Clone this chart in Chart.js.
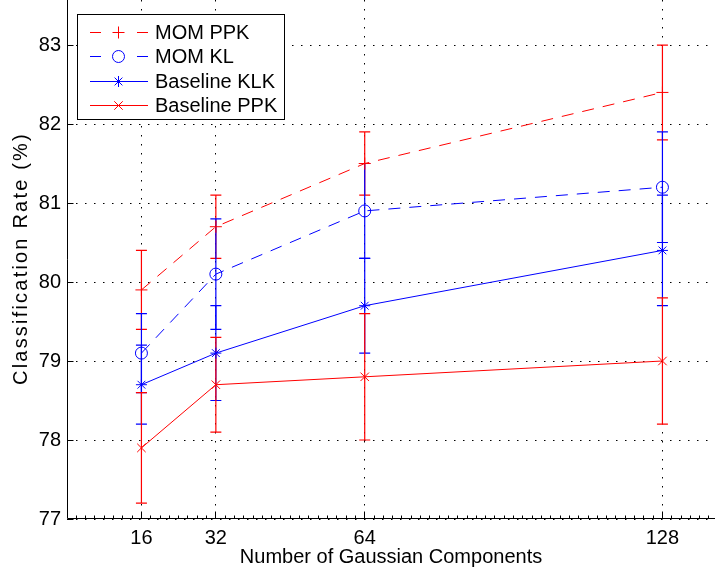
<!DOCTYPE html>
<html>
<head>
<meta charset="utf-8">
<script src="https://cdn.jsdelivr.net/npm/chart.js@4.4.0/dist/chart.umd.min.js"></script>
<style>
  html, body { margin: 0; padding: 0; background: #fff; }
  #wrap { width: 715px; height: 574px; }
</style>
</head>
<body>
<div id="wrap"><canvas id="chart" width="715" height="574"></canvas></div>
<script>
// data
const components = [16, 32, 64, 128];
const momPpk = [79.9, 80.7, 81.5, 82.4];
const momPpkErr = [0.5, 0.4, 0.4, 0.6];
const momKl = [79.1, 80.1, 80.9, 81.2];
const momKlErr = [0.5, 0.7, 0.6, 0.7];
const baseKlk = [78.7, 79.1, 79.7, 80.4];
const baseKlkErr = [0.5, 0.6, 0.6, 0.7];
const basePpk = [77.9, 78.7, 78.8, 79.0];
const basePpkErr = [0.7, 0.6, 0.8, 0.8];
const yTicks = [77, 78, 79, 80, 81, 82, 83];

const RED = '#ff0000';
const BLUE = '#0000ff';
const FONT = 'Liberation Sans, Arial, Helvetica, sans-serif';
const Y_TITLE = 'Classification Rate (%)';

Chart.defaults.font.family = FONT;
Chart.defaults.color = '#000';

function toPoints(values) {
    return values.map((v, i) => ({ x: components[i], y: v }));
}

// same pixel snapping as the chart.js grid lines
function snap(px) {
    return Math.round(px - 0.5) + 0.5;
}

function series(label, values, errors, color, dashed, style, radius) {
    return {
        label: label,
        data: toPoints(values),
        errors: errors,
        borderColor: color,
        borderWidth: 1,
        borderDash: dashed ? [12, 9] : [],
        pointStyle: style,
        pointRadius: radius,
        pointBorderColor: color,
        pointBackgroundColor: 'rgba(0,0,0,0)',
        pointBorderWidth: 1,
        tension: 0,
        fill: false
    };
}

// error bars with caps, drawn through the scales
const errorBars = {
    id: 'errorBars',
    beforeDatasetsDraw(chart) {
        const ctx = chart.ctx;
        const xs = chart.scales.x, ys = chart.scales.y;
        ctx.save();
        ctx.lineWidth = 1.2;
        ctx.setLineDash([]);
        chart.data.datasets.forEach(ds => {
            ctx.strokeStyle = ds.borderColor;
            ds.data.forEach((p, i) => {
                const x = xs.getPixelForValue(p.x);
                const top = ys.getPixelForValue(p.y + ds.errors[i]);
                const bot = ys.getPixelForValue(p.y - ds.errors[i]);
                ctx.beginPath();
                ctx.moveTo(x, top); ctx.lineTo(x, bot);
                ctx.moveTo(x - 5.5, top); ctx.lineTo(x + 5.5, top);
                ctx.moveTo(x - 5.5, bot); ctx.lineTo(x + 5.5, bot);
                ctx.stroke();
            });
        });
        ctx.restore();
    }
};

// axis lines, inward tick marks and the y title (matlab look)
const axesBox = {
    id: 'axesBox',
    beforeDatasetsDraw(chart) {
        const ctx = chart.ctx;
        const a = chart.chartArea;
        const xs = chart.scales.x, ys = chart.scales.y;
        const left = Math.round(a.left) + 0.5;
        const bottom = Math.round(a.bottom) - 0.5;
        ctx.save();
        ctx.strokeStyle = '#000';
        ctx.lineWidth = 1;
        ctx.beginPath();
        ctx.moveTo(left, a.top); ctx.lineTo(left, bottom);
        ctx.lineTo(a.right, bottom);
        yTicks.forEach(v => {
            const y = snap(ys.getPixelForValue(v));
            ctx.moveTo(left, y); ctx.lineTo(left + 6, y);
        });
        components.forEach(v => {
            const x = snap(xs.getPixelForValue(v));
            ctx.moveTo(x, bottom); ctx.lineTo(x, bottom - 7);
        });
        for (let v = 2; v < xs.max; v += 2) {
            if (components.includes(v)) continue;
            const x = snap(xs.getPixelForValue(v));
            ctx.moveTo(x, bottom); ctx.lineTo(x, bottom - 3);
        }
        ctx.stroke();

        // rotated y label, slightly spaced out like the original export
        ctx.translate(21, (a.top + a.bottom) / 2);
        ctx.rotate(-Math.PI / 2);
        ctx.fillStyle = '#000';
        ctx.font = '20px ' + FONT;
        ctx.textAlign = 'center';
        ctx.textBaseline = 'middle';
        if ('letterSpacing' in ctx) ctx.letterSpacing = '2.2px';
        ctx.fillText(Y_TITLE, 1, 0);
        ctx.restore();
    }
};

// legend box in the top-left corner
const legendBox = {
    id: 'legendBox',
    afterDraw(chart) {
        const ctx = chart.ctx;
        ctx.save();
        ctx.fillStyle = '#fff';
        ctx.fillRect(77.5, 14.5, 207, 105);
        ctx.strokeStyle = '#000';
        ctx.lineWidth = 1;
        ctx.strokeRect(77.5, 14.5, 207, 105);
        chart.data.datasets.forEach((ds, i) => {
            const y = Math.round(31.5 + i * 24.5) + 0.5;
            ctx.strokeStyle = ds.borderColor;
            ctx.setLineDash([]);
            ctx.beginPath();
            if (ds.borderDash.length) {
                ctx.moveTo(90, y); ctx.lineTo(101, y);
                ctx.moveTo(137, y); ctx.lineTo(148, y);
            } else {
                ctx.moveTo(90, y); ctx.lineTo(148, y);
            }
            ctx.stroke();
            ctx.fillStyle = 'rgba(0,0,0,0)';
            Chart.helpers.drawPoint(ctx, {
                pointStyle: ds.pointStyle,
                radius: ds.pointRadius,
                borderWidth: 1,
                rotation: 0
            }, 118.5, y);
            ctx.fillStyle = '#000';
            ctx.font = '20px ' + FONT;
            ctx.textBaseline = 'middle';
            ctx.fillText(ds.label, 155, y + 1);
        });
        ctx.restore();
    }
};

const ctx = document.getElementById('chart').getContext('2d');
new Chart(ctx, {
    type: 'line',
    data: {
        datasets: [
            series('MOM PPK', momPpk, momPpkErr, RED, true, 'cross', 6),
            series('MOM KL', momKl, momKlErr, BLUE, true, 'circle', 6),
            series('Baseline KLK', baseKlk, baseKlkErr, BLUE, false, 'star', 5.5),
            series('Baseline PPK', basePpk, basePpkErr, RED, false, 'crossRot', 6)
        ]
    },
    options: {
        responsive: false,
        animation: false,
        devicePixelRatio: 1,
        layout: { padding: 0, autoPadding: false },
        plugins: {
            legend: { display: false },
            tooltip: { enabled: false }
        },
        scales: {
            x: {
                type: 'linear',
                min: 0,
                max: 139.3,
                afterBuildTicks: s => { s.ticks = components.map(v => ({ value: v })); },
                afterFit: s => { s.height = 55; s.paddingLeft = 0; s.paddingRight = 0; },
                grid: { color: '#000', lineWidth: 1, drawTicks: false },
                border: { display: false, dash: [1.5, 7.5] },
                ticks: { color: '#000', font: { size: 20 }, padding: 7, autoSkip: false, maxRotation: 0 },
                title: {
                    display: true,
                    text: 'Number of Gaussian Components',
                    color: '#000',
                    font: { size: 20 },
                    padding: { top: 0, bottom: 5 }
                }
            },
            y: {
                type: 'linear',
                min: 77,
                max: 83.57,
                afterBuildTicks: s => { s.ticks = yTicks.map(v => ({ value: v })); },
                afterFit: s => { s.width = 67; s.paddingTop = 0; s.paddingBottom = 0; },
                grid: { color: '#000', lineWidth: 1, drawTicks: false },
                border: { display: false, dash: [1.5, 7.5] },
                ticks: { color: '#000', font: { size: 20 }, padding: 6 },
                title: { display: false }
            }
        }
    },
    plugins: [axesBox, errorBars, legendBox]
});
</script>
</body>
</html>
